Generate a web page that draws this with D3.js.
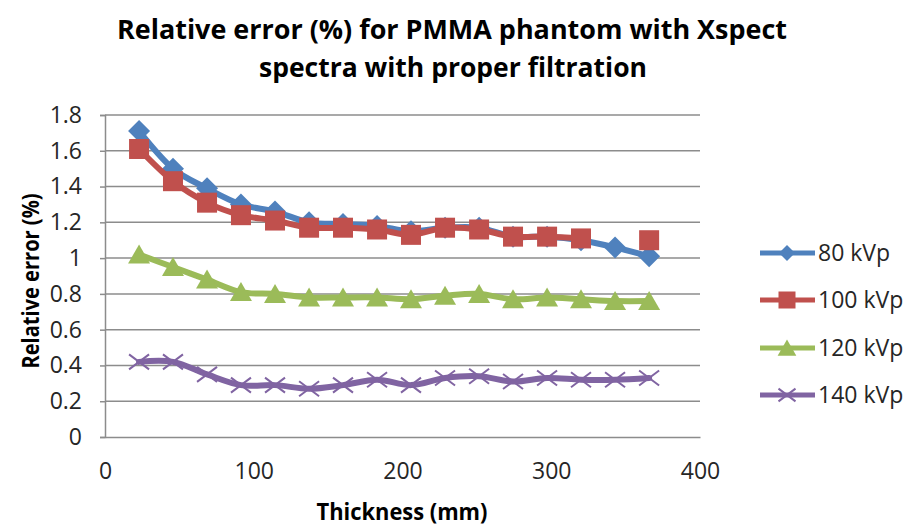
<!DOCTYPE html>
<html>
<head>
<meta charset="utf-8">
<script src="https://cdn.jsdelivr.net/npm/d3@7"></script>
<style>
  html, body { margin: 0; padding: 0; background: #fff; }
  svg { display: block; }
  text { font-family: "Open Sans", "Liberation Sans", sans-serif; }
</style>
</head>
<body>
<svg id="chart" width="909" height="526"></svg>
<script>
// ---- data ----
const thickness = [22.9, 45.7, 68.6, 91.4, 114.3, 137.2, 160.0, 182.9, 205.7, 228.6, 251.5, 274.3, 297.2, 320.0, 342.9, 365.8];
const kvp80  = [1.71, 1.50, 1.39, 1.30, 1.26, 1.20, 1.19, 1.18, 1.15, 1.17, 1.17, 1.12, 1.12, 1.10, 1.06, 1.01];
const kvp100 = [1.61, 1.43, 1.31, 1.24, 1.21, 1.17, 1.17, 1.16, 1.13, 1.17, 1.16, 1.12, 1.12, 1.11, null, 1.10];
const kvp120 = [1.02, 0.95, 0.88, 0.81, 0.80, 0.78, 0.78, 0.78, 0.77, 0.79, 0.80, 0.77, 0.78, 0.77, 0.76, 0.76];
const kvp140 = [0.42, 0.42, 0.35, 0.29, 0.29, 0.27, 0.29, 0.32, 0.29, 0.33, 0.34, 0.31, 0.33, 0.32, 0.32, 0.33];
const seriesNames = ["80 kVp", "100 kVp", "120 kVp", "140 kVp"];
const xTicks = [0, 100, 200, 300, 400];
const yTicks = [0, 0.2, 0.4, 0.6, 0.8, 1, 1.2, 1.4, 1.6, 1.8];
const titleLines = ["Relative error (%) for PMMA phantom with Xspect", "spectra with proper filtration"];
const xTitle = "Thickness (mm)";
const yTitle = "Relative error (%)";

const series = [
  { name: seriesNames[0], values: kvp80,  color: "#4F81BD", marker: "diamond" },
  { name: seriesNames[1], values: kvp100, color: "#C0504D", marker: "square" },
  { name: seriesNames[2], values: kvp120, color: "#9BBB59", marker: "triangle" },
  { name: seriesNames[3], values: kvp140, color: "#8064A2", marker: "x" }
];

const svg = d3.select("#chart");
const plotL = 105, plotR = 700, plotT = 115, plotB = 437;
const x = d3.scaleLinear().domain([0, 400]).range([plotL, plotR]);
const y = d3.scaleLinear().domain([0, 1.8]).range([plotB, plotT]);

// title
svg.append("text").attr("x", 452).attr("y", 39).attr("text-anchor", "middle")
  .attr("font-size", 26).attr("font-weight", "bold").attr("fill", "#000")
  .attr("textLength", 670).attr("lengthAdjust", "spacingAndGlyphs").text(titleLines[0]);
svg.append("text").attr("x", 453).attr("y", 77).attr("text-anchor", "middle")
  .attr("font-size", 26).attr("font-weight", "bold").attr("fill", "#000")
  .attr("textLength", 388).attr("lengthAdjust", "spacingAndGlyphs").text(titleLines[1]);

// gridlines
svg.append("g").selectAll("line").data(yTicks.filter(d => d > 0)).join("line")
  .attr("x1", plotL).attr("x2", plotR)
  .attr("y1", d => y(d)).attr("y2", d => y(d))
  .attr("stroke", "#8c8c8c").attr("stroke-width", 1.5);

// y axis
const yAxis = d3.axisLeft(y).tickValues(yTicks).tickSize(5).tickPadding(18)
  .tickFormat(d => String(+d.toFixed(1)));
const gy = svg.append("g").attr("transform", `translate(${plotL},0)`).call(yAxis);
gy.select(".domain").attr("stroke", "#8c8c8c").attr("stroke-width", 1.5);
gy.selectAll(".tick line").attr("stroke", "#8c8c8c").attr("stroke-width", 1.5);
gy.selectAll(".tick text").attr("font-size", 23).attr("fill", "#262626")
  .attr("font-family", "'Open Sans', sans-serif");

// x axis
const xAxis = d3.axisBottom(x).tickValues(xTicks).tickSize(0).tickPadding(26);
const gx = svg.append("g").attr("transform", `translate(0,${plotB})`).call(xAxis);
gx.select(".domain").attr("stroke", "#8c8c8c").attr("stroke-width", 1.5);
gx.selectAll(".tick text").attr("font-size", 23).attr("fill", "#262626")
  .attr("font-family", "'Open Sans', sans-serif");

// axis titles
svg.append("text").attr("x", 402).attr("y", 520).attr("text-anchor", "middle")
  .attr("font-size", 23).attr("font-weight", "bold").attr("fill", "#000")
  .attr("textLength", 171).attr("lengthAdjust", "spacingAndGlyphs").text(xTitle);
svg.append("text").attr("transform", "translate(39,281) rotate(-90)").attr("text-anchor", "middle")
  .attr("font-size", 24).attr("font-weight", "bold").attr("fill", "#000")
  .attr("textLength", 175).attr("lengthAdjust", "spacingAndGlyphs").text(yTitle);

// markers
function drawMarker(g, type, color, s) {
  if (type === "diamond") {
    g.append("path").attr("d", `M0,${-s*0.5}L${s*0.5},0L0,${s*0.5}L${-s*0.5},0Z`).attr("fill", color);
  } else if (type === "square") {
    g.append("rect").attr("x", -s/2).attr("y", -s/2).attr("width", s).attr("height", s).attr("fill", color);
  } else if (type === "triangle") {
    g.append("path").attr("d", `M0,${-s*0.5}L${s*0.55},${s*0.45}L${-s*0.55},${s*0.45}Z`).attr("fill", color);
  } else if (type === "x") {
    const h = s * 0.5;
    g.append("path").attr("d", `M${-h},${-h*0.75}L${h},${h*0.75}M${-h},${h*0.75}L${h},${-h*0.75}`)
      .attr("stroke", color).attr("stroke-width", 2).attr("fill", "none");
  }
}

const line = d3.line()
  .defined(d => d[1] != null)
  .x(d => x(d[0])).y(d => y(d[1]))
  .curve(d3.curveCardinal.tension(0));

const markerSize = { diamond: 22, square: 20, triangle: 20, x: 20 };
const legendMarkerSize = { diamond: 16, square: 17, triangle: 17, x: 17 };

series.forEach(s => {
  const pts = thickness.map((t, i) => [t, s.values[i]]);
  const g = svg.append("g");
  g.append("path").datum(pts).attr("d", line)
    .attr("fill", "none").attr("stroke", s.color).attr("stroke-width", 6)
    .attr("stroke-linejoin", "round").attr("stroke-linecap", "round");
  pts.filter(p => p[1] != null).forEach(p => {
    const mg = g.append("g").attr("transform", `translate(${x(p[0])},${y(p[1])})`);
    drawMarker(mg, s.marker, s.color, markerSize[s.marker]);
  });
});

// legend
const legendY = [253, 300, 348, 395];
series.forEach((s, i) => {
  const g = svg.append("g").attr("transform", `translate(0,${legendY[i]})`);
  g.append("line").attr("x1", 760).attr("x2", 815).attr("y1", 0).attr("y2", 0)
    .attr("stroke", s.color).attr("stroke-width", 5);
  const mg = g.append("g").attr("transform", "translate(787,0)");
  drawMarker(mg, s.marker, s.color, legendMarkerSize[s.marker]);
  g.append("text").attr("x", 818).attr("y", 0).attr("dy", "0.35em")
    .attr("font-size", 23).attr("fill", "#262626").text(s.name);
});
</script>
</body>
</html>
